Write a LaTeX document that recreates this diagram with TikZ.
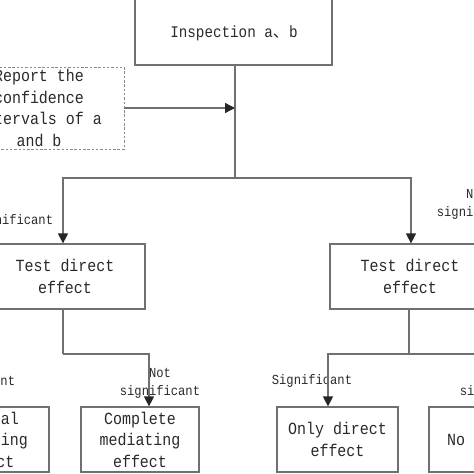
\documentclass[tikz,border=0pt]{standalone}
\usepackage{fontspec}
\setmainfont[FakeStretch=0.88]{Liberation Mono}
\newfontfamily\cjk{Noto Sans CJK SC}
\usetikzlibrary{arrows.meta}
\definecolor{linegray}{HTML}{707070}
\definecolor{dashgray}{HTML}{8A8A8A}
\definecolor{textgray}{HTML}{2A2A2A}
\begin{document}
\begin{tikzpicture}[x=1pt,y=-1pt,
  box/.style={draw=linegray, line width=1.2pt, inner sep=0pt},
  dbox/.style={draw=dashgray, line width=0.9pt, dash pattern=on 2.5pt off 1.8pt, inner sep=0pt},
  txt/.style={font=\fontsize{17}{21.5}\selectfont, text=textgray, align=center},
  lbl/.style={font=\fontsize{13.8}{18}\selectfont, text=textgray, align=center, inner sep=0pt},
  conn/.style={draw=linegray, line width=1.2pt},
  arr/.style={-{Triangle[length=10pt,width=10pt,color=black!85]}}
]
\useasboundingbox (0,0) rectangle (474,474);
\fill[white] (0,0) rectangle (474,474);
\clip (0,0) rectangle (474,474);

% boxes
\node[box, minimum width=197pt, minimum height=75pt] (top) at (233.5,27.5) {};
\node[txt, font=\fontsize{16.2}{21.5}\selectfont, inner sep=0pt] (toptxt) at (234,33) {Inspection a{\cjk 、}b};
\node[dbox, txt, minimum width=170pt, minimum height=82pt] (rep) at (39,108) {Report the\\confidence\\intervals of a\\and b};
\node[box, txt, minimum width=160pt, minimum height=65pt] (midL) at (65,276.5) {Test direct\\effect};
\node[box, txt, minimum width=160pt, minimum height=65pt] (midR) at (410,276.5) {Test direct\\effect};
\node[box, txt, minimum width=123pt, minimum height=65pt] (part) at (-12.5,439.5) {Partial\\mediating\\effect};
\node[box, txt, minimum width=118pt, minimum height=65pt] (comp) at (140,439.5) {Complete\\mediating\\effect};
\node[box, txt, minimum width=121pt, minimum height=65pt] (only) at (337.5,439.5) {Only direct\\effect};
\node[box, txt, minimum width=117pt, minimum height=65pt] (noeff) at (487.5,439.5) {No effect};

% labels
\node[lbl] (sigL) at (13,221) {Significant};
\node[lbl] (nsigR) at (477,204) {Not\\significant};
\node[lbl] (sigLL) at (-25,382) {Significant};
\node[lbl] (nsigLR) at (160,383) {Not\\significant};
\node[lbl] (sigRL) at (312,381) {Significant};
\node[lbl] (nsigRR) at (500,383) {Not\\significant};

% connectors
\coordinate (j0) at (235,178);
\draw[conn] (top.south -| j0) -- (j0);
\draw[conn,arr] (rep.east) -- (rep.east -| j0);
\draw[conn,arr] (j0) -| ([xshift=-2pt]midL.north);
\draw[conn,arr] (j0) -| ([xshift=1pt]midR.north);
\coordinate (j1) at (63,354);
\draw[conn] ([xshift=-2pt]midL.south) -- (j1);
\draw[conn,arr] (j1) -| ([xshift=9pt]comp.north);
\coordinate (j2) at (409,354);
\draw[conn] ([xshift=-1pt]midR.south) -- (j2);
\draw[conn,arr] (j2) -| ([xshift=-9.5pt]only.north);
\draw[conn,arr] (j2) -| ([xshift=8pt]noeff.north);
\end{tikzpicture}
\end{document}
